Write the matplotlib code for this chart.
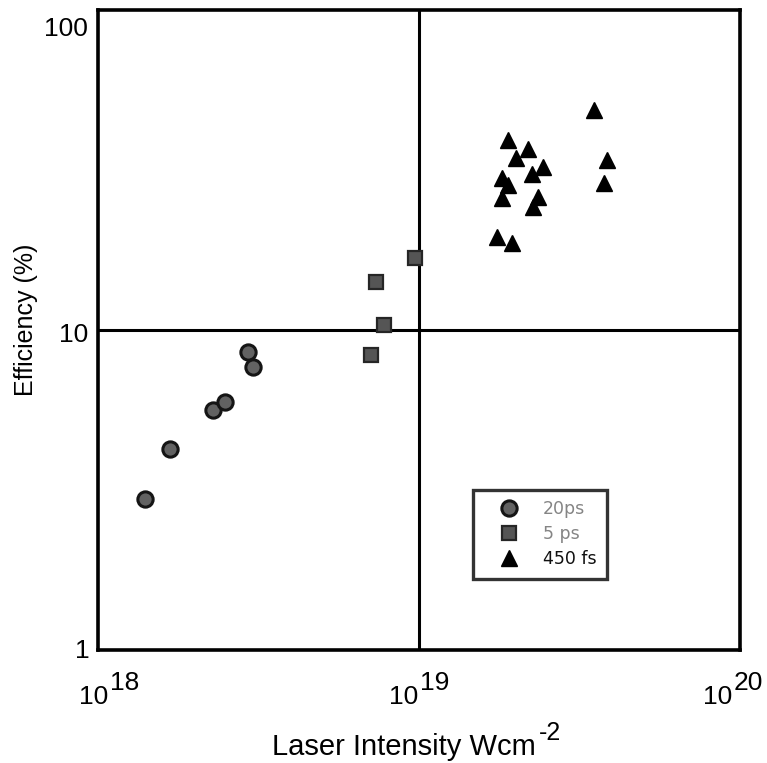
import matplotlib
matplotlib.use("Agg")
import matplotlib.pyplot as plt
from matplotlib.ticker import FixedLocator, NullLocator

plt.rcParams['font.family'] = ['Liberation Sans', 'DejaVu Sans']

# 20 ps pulses
ps20_intensity = [1.40e18, 1.68e18, 2.28e18, 2.49e18, 2.93e18, 3.04e18]
ps20_efficiency = [2.96, 4.25, 5.62, 5.96, 8.54, 7.66]

# 5 ps pulses
ps5_intensity = [9.72e18, 7.35e18, 7.78e18, 7.08e18]
ps5_efficiency = [16.8, 14.1, 10.4, 8.35]

# 450 fs pulses
fs450_intensity = [3.51e19, 1.89e19, 2.19e19, 2.01e19, 2.43e19, 2.25e19, 1.81e19,
                   1.89e19, 3.85e19, 3.77e19, 1.81e19, 2.35e19, 2.27e19, 1.75e19, 1.95e19]
fs450_efficiency = [48.7, 39.2, 36.8, 34.5, 32.3, 30.7, 29.9,
                    28.4, 34.0, 28.8, 25.9, 26.0, 24.2, 19.5, 18.7]

x_ticks = [1e18, 1e19, 1e20]
x_tick_exponents = ['18', '19', '20']
y_ticks = [1, 10, 100]
y_tick_labels = ['1', '10', '100']

DPI = 100
PX = 72.0 / DPI  # points per pixel

fig = plt.figure(figsize=(7.67, 7.63), dpi=DPI)
ax = fig.add_axes([98 / 767, 113 / 763, 642 / 767, 640 / 763])
ax.set_xscale('log')
ax.set_yscale('log')
ax.set_xlim(1e18, 1e20)
ax.set_ylim(1, 100)

ax.axvline(1e19, color='black', lw=2.2, zorder=1)
ax.axhline(10, color='black', lw=2.2, zorder=1)

ax.plot(ps20_intensity, ps20_efficiency, 'o', ms=11, mfc='#626262', mec='#151515',
        mew=2.2, ls='none', label='20ps', zorder=3)
ax.plot(ps5_intensity, ps5_efficiency, 's', ms=10, mfc='#555555', mec='#262626',
        mew=1.6, ls='none', label='5 ps', zorder=3)
ax.plot(fs450_intensity, fs450_efficiency, '^', ms=12, color='black',
        ls='none', label='450 fs', zorder=3)

ax.xaxis.set_major_locator(FixedLocator(x_ticks))
ax.xaxis.set_minor_locator(NullLocator())
ax.yaxis.set_major_locator(FixedLocator(y_ticks))
ax.yaxis.set_minor_locator(NullLocator())
ax.set_xticklabels([])
ax.set_yticklabels([])
ax.tick_params(axis='both', length=0)

for s in ax.spines.values():
    s.set_linewidth(2.6)

# x tick labels: "10" with a full-size raised exponent
tick_fs = 19
x_shift_px = [9, -2, -9]
xtrans = ax.get_xaxis_transform()
for xv, ex, sh in zip(x_ticks, x_tick_exponents, x_shift_px):
    ax.annotate('10', xy=(xv, 0), xycoords=xtrans,
                xytext=((sh + 1) * PX, -54 * PX), textcoords='offset points',
                ha='right', va='baseline', fontsize=tick_fs, annotation_clip=False)
    ax.annotate(ex, xy=(xv, 0), xycoords=xtrans,
                xytext=((sh + 3) * PX, -40 * PX), textcoords='offset points',
                ha='left', va='baseline', fontsize=tick_fs, annotation_clip=False)

# y tick labels
ytrans = ax.get_yaxis_transform()
y_shift_px = [(-8, 2), (-10, -2), (-10, -16)]
for yv, lab, (dx, dy) in zip(y_ticks, y_tick_labels, y_shift_px):
    ax.annotate(lab, xy=(0, yv), xycoords=ytrans,
                xytext=(dx * PX, dy * PX), textcoords='offset points',
                ha='right', va='center_baseline', fontsize=tick_fs, annotation_clip=False)

# axis titles
fig.text(404 / 767, 1 - 755 / 763, 'Laser Intensity Wcm', ha='center', va='baseline',
         fontsize=21)
fig.text(539 / 767, 1 - 740 / 763, '-2', ha='left', va='baseline', fontsize=18)
fig.text(26 / 767, 1 - 320 / 763, 'Efficiency (%)', ha='center', va='center',
         rotation=90, fontsize=18)

leg = ax.legend(loc='upper left', bbox_to_anchor=(0.584, 0.250),
                prop={'family': 'DejaVu Sans', 'size': 12.5},
                frameon=True, fancybox=False, edgecolor='black', borderpad=0.6,
                handlelength=3.0, handletextpad=0.45, labelspacing=0.4,
                borderaxespad=0)
leg.get_frame().set_linewidth(2.4)
for t, c in zip(leg.get_texts(), ['#858585', '#858585', '#111111']):
    t.set_color(c)

fig.savefig('out.png', dpi=DPI)
